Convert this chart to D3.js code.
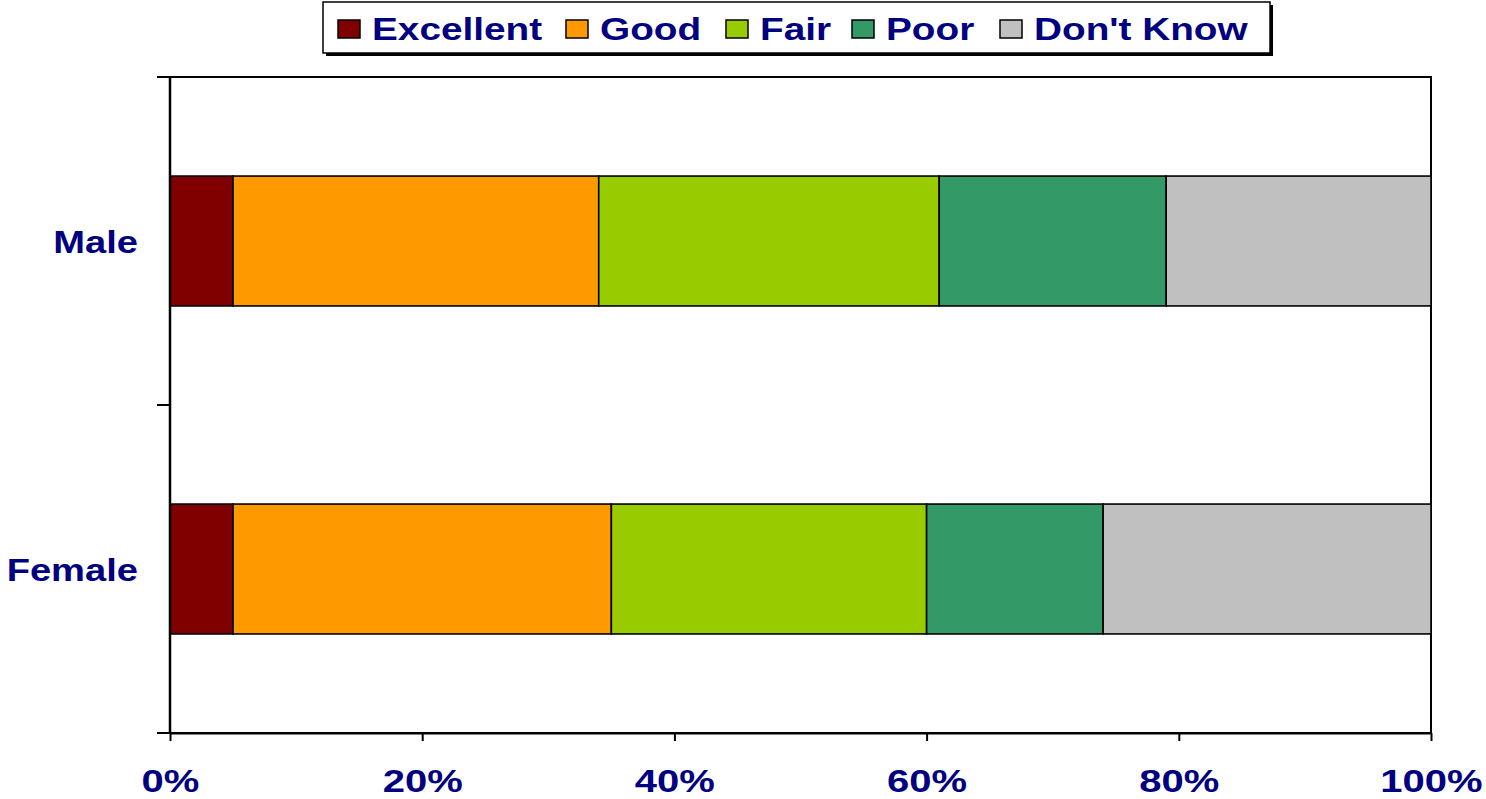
<!DOCTYPE html>
<html>
<head>
<meta charset="utf-8">
<script src="https://cdn.jsdelivr.net/npm/d3@7"></script>
<style>
  body { margin: 0; background: #fff; }
  text { font-family: "Liberation Sans", Arial, sans-serif; font-weight: bold; fill: #000080; }
</style>
</head>
<body>
<div id="chart"></div>
<script>
// data
const groups = ["Male", "Female"];
const ratings = ["Excellent", "Good", "Fair", "Poor", "Don't Know"];
const male = [5, 29, 27, 18, 21];
const female = [5, 30, 25, 14, 26];
const tickLabels = ["0%", "20%", "40%", "60%", "80%", "100%"];
const colors = ["#800000", "#FF9900", "#99CC00", "#339966", "#C0C0C0"];

const svgWidth = 1486;
const svgHeight = 799;
const stretch = 1.25; // text in the original looks widened

const svg = d3.select("#chart")
  .append("svg")
  .attr("width", svgWidth)
  .attr("height", svgHeight);

const x = d3.scaleLinear().domain([0, 100]).range([170, 1431]);
const y = d3.scaleBand().domain(groups).range([77, 733])
  .paddingInner(0.604).paddingOuter(0.302);

const rows = [male, female].map((vals, i) => {
  let acc = 0;
  return vals.map((v, j) => {
    const seg = { group: groups[i], key: ratings[j], x0: acc, x1: acc + v, color: colors[j] };
    acc += v;
    return seg;
  });
}).flat();

// plot box (top and right)
svg.append("rect")
  .attr("x", x(0)).attr("y", y.range()[0])
  .attr("width", x(100) - x(0)).attr("height", y.range()[1] - y.range()[0])
  .attr("fill", "none").attr("stroke", "#000").attr("stroke-width", 2);

// bars
svg.selectAll("rect.seg")
  .data(rows)
  .enter()
  .append("rect")
  .attr("class", "seg")
  .attr("x", d => x(d.x0))
  .attr("y", d => y(d.group))
  .attr("width", d => x(d.x1) - x(d.x0))
  .attr("height", y.bandwidth())
  .attr("fill", d => d.color)
  .attr("stroke", "#000")
  .attr("stroke-width", 1.6);

// bottom axis
const bottomAxis = d3.axisBottom(x)
  .tickValues([0, 20, 40, 60, 80, 100])
  .tickFormat((d, i) => tickLabels[i])
  .tickSize(8)
  .tickSizeOuter(0);

const xg = svg.append("g")
  .attr("transform", `translate(0, ${y.range()[1]})`)
  .call(bottomAxis);
xg.select(".domain").attr("stroke", "#000").attr("stroke-width", 2);
xg.selectAll(".tick line").attr("stroke", "#000").attr("stroke-width", 2);
xg.selectAll(".tick text")
  .attr("y", 59).attr("dy", 0)
  .attr("transform", `scale(${stretch},1)`)
  .style("font-size", "32px")
  .style("fill", "#000080");

// left axis line + ticks at band boundaries
const yTop = y.range()[0];
svg.append("line")
  .attr("x1", x(0)).attr("x2", x(0))
  .attr("y1", yTop).attr("y2", y.range()[1])
  .attr("stroke", "#000").attr("stroke-width", 2.5);
svg.selectAll("line.ytick")
  .data(d3.range(groups.length + 1))
  .enter()
  .append("line")
  .attr("x1", x(0) - 13).attr("x2", x(0))
  .attr("y1", i => yTop + i * y.step())
  .attr("y2", i => yTop + i * y.step())
  .attr("stroke", "#000").attr("stroke-width", 2);

// category labels
svg.selectAll("text.cat")
  .data(groups)
  .enter()
  .append("text")
  .attr("transform", d => `translate(138, ${y(d) + y.bandwidth() / 2 + 12}) scale(${stretch},1)`)
  .style("text-anchor", "end")
  .style("font-size", "30.5px")
  .text(d => d);

// legend
const legend = svg.append("g");
legend.append("rect")
  .attr("x", 326).attr("y", 5).attr("width", 947).attr("height", 51)
  .attr("fill", "#000");
legend.append("rect")
  .attr("x", 323).attr("y", 2).attr("width", 947).attr("height", 51)
  .attr("fill", "#fff").attr("stroke", "#000").attr("stroke-width", 1.5);

const legendX = [338, 566, 726, 852, 1000];
const items = legend.selectAll("g.item")
  .data(ratings)
  .enter()
  .append("g")
  .attr("transform", (d, i) => `translate(${legendX[i]}, 0)`);
items.append("rect")
  .attr("x", 0).attr("y", 20).attr("width", 22).attr("height", 18)
  .attr("fill", (d, i) => colors[i])
  .attr("stroke", "#000").attr("stroke-width", 1.5);
items.append("text")
  .attr("transform", `translate(34, 40) scale(${stretch},1)`)
  .style("font-size", "31px")
  .text(d => d);
</script>
</body>
</html>
